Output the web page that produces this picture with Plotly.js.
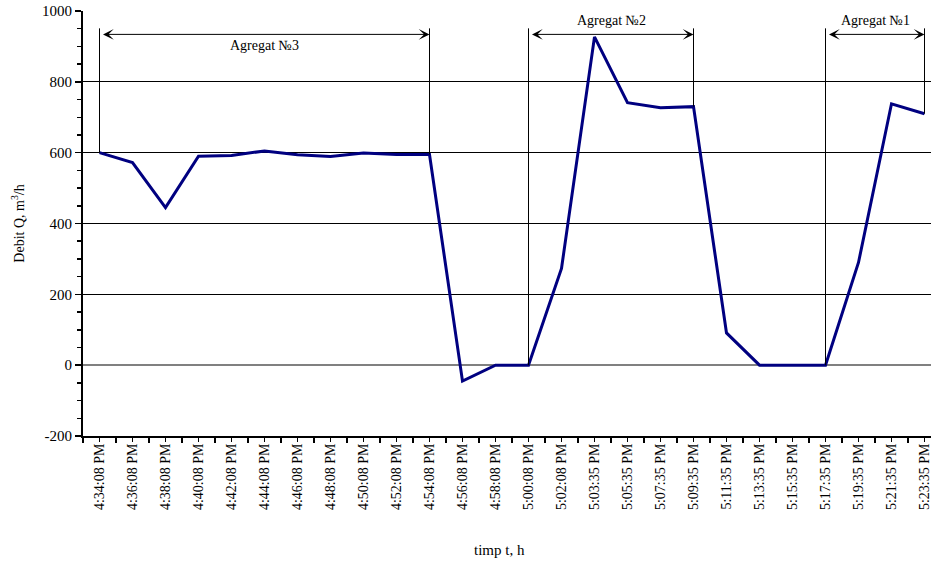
<!DOCTYPE html>
<html>
<head>
<meta charset="utf-8">
<script src="https://cdn.plot.ly/plotly-3.0.1.min.js"></script>
<style>
  html, body { margin: 0; padding: 0; overflow: hidden; background: #fff; width: 931px; height: 564px; }
  #chart { width: 960px; height: 564px; }
</style>
</head>
<body>
<div id="chart"></div>
<script>
// ---- data ----
const categories = [
  "4:34:08 PM", "4:36:08 PM", "4:38:08 PM", "4:40:08 PM", "4:42:08 PM",
  "4:44:08 PM", "4:46:08 PM", "4:48:08 PM", "4:50:08 PM", "4:52:08 PM",
  "4:54:08 PM", "4:56:08 PM", "4:58:08 PM", "5:00:08 PM", "5:02:08 PM",
  "5:03:35 PM", "5:05:35 PM", "5:07:35 PM", "5:09:35 PM", "5:11:35 PM",
  "5:13:35 PM", "5:15:35 PM", "5:17:35 PM", "5:19:35 PM", "5:21:35 PM",
  "5:23:35 PM"
];
const debit = [
  600, 572, 445, 590, 592,
  605, 594, 589, 599, 595,
  595, -45, 0, 0, 273,
  927, 741, 727, 730, 91,
  0, 0, 0, 290, 738,
  710
];
const yTickVals = [-200, 0, 200, 400, 600, 800, 1000];
const yTickText = ["-200", "0", "200", "400", "600", "800", "1000"];

const bracketNames = ["Agregat №3", "Agregat №2", "Agregat №1"];
const bracketStart = ["4:34:08 PM", "5:00:08 PM", "5:17:35 PM"];
const bracketEnd   = ["4:54:08 PM", "5:09:35 PM", "5:23:35 PM"];
const bracketLabelAbove = [false, true, true];

// ---- styling constants ----
const FONT = 'Liberation Serif, Times New Roman, serif';
const arrowLevel = 934;
const lineTop = 951;
const labelAboveLevel = 973;
const labelBelowLevel = 903;

const traces = [
  {
    x: categories, y: debit, type: 'scatter', mode: 'lines',
    line: { color: '#000080', width: 3 },
    hoverinfo: 'x+y', showlegend: false
  },
  {
    x: categories, y: debit, type: 'scatter', mode: 'lines',
    xaxis: 'x2', opacity: 0, hoverinfo: 'skip', showlegend: false,
    line: { width: 0 }
  }
];

const shapes = [];
const annotations = [];
for (let i = 0; i < bracketNames.length; i++) {
  const s = categories.indexOf(bracketStart[i]);
  const e = categories.indexOf(bracketEnd[i]);
  [s, e].forEach(idx => {
    shapes.push({
      type: 'line', xref: 'x', yref: 'y',
      x0: idx, x1: idx, y0: debit[idx], y1: lineTop,
      line: { color: '#000', width: 1 }
    });
  });
  annotations.push({
    xref: 'x', yref: 'y', axref: 'x', ayref: 'y',
    x: e, y: arrowLevel, ax: s, ay: arrowLevel,
    text: ' ', showarrow: true,
    arrowhead: 3, startarrowhead: 3, arrowside: 'end+start',
    arrowsize: 1.8, startarrowsize: 1.8, arrowwidth: 1,
    arrowcolor: '#000', standoff: 0, startstandoff: 0
  });
  annotations.push({
    xref: 'x', yref: 'y',
    x: (s + e) / 2,
    y: bracketLabelAbove[i] ? labelAboveLevel : labelBelowLevel,
    text: bracketNames[i], showarrow: false,
    font: { family: FONT, size: 14, color: '#000' }
  });
}
annotations.push({
  xref: 'paper', yref: 'paper', x: 0.486, y: -0.268,
  xanchor: 'center', yanchor: 'middle',
  text: 'timp t, h', showarrow: false,
  font: { family: FONT, size: 15, color: '#000' }
});

const layout = {
  width: 960, height: 564,
  margin: { l: 83, r: 19, t: 11, b: 128 },
  paper_bgcolor: '#fff', plot_bgcolor: '#fff',
  font: { family: FONT, size: 14, color: '#000' },
  showlegend: false,
  xaxis: {
    type: 'category', range: [-0.5, 25.5],
    tickson: 'boundaries', ticks: 'outside', ticklen: 5, tickwidth: 1.5, tickcolor: '#000',
    tickangle: -90, tickfont: { family: FONT, size: 14, color: '#000' },
    showline: true, linewidth: 2, linecolor: '#000',
    showgrid: false, zeroline: false, automargin: false
  },
  xaxis2: {
    type: 'category', overlaying: 'x', anchor: 'y', side: 'bottom',
    range: [-0.5, 25.5],
    ticks: 'outside', ticklen: 5, tickwidth: 1.5, tickcolor: '#000',
    showticklabels: false, showline: false, showgrid: false, zeroline: false
  },
  yaxis: {
    range: [-200, 1000],
    tickmode: 'array', tickvals: yTickVals, ticktext: yTickText,
    ticks: 'outside', ticklen: 6, tickwidth: 1.5, tickcolor: '#000',
    minor: { dtick: 50, ticks: 'outside', ticklen: 4, tickwidth: 1.5, tickcolor: '#000', showgrid: false },
    tickfont: { family: FONT, size: 15, color: '#000' },
    showline: true, linewidth: 2, linecolor: '#000',
    showgrid: true, gridcolor: '#000', gridwidth: 1,
    zeroline: true, zerolinecolor: '#808080', zerolinewidth: 1.5,
    title: { text: 'Debit Q, m<sup>3</sup>/h', font: { family: FONT, size: 14, color: '#000' }, standoff: 14 },
    automargin: false
  },
  shapes: shapes,
  annotations: annotations
};

Plotly.newPlot('chart', traces, layout, { displayModeBar: false, staticPlot: true });
</script>
</body>
</html>
